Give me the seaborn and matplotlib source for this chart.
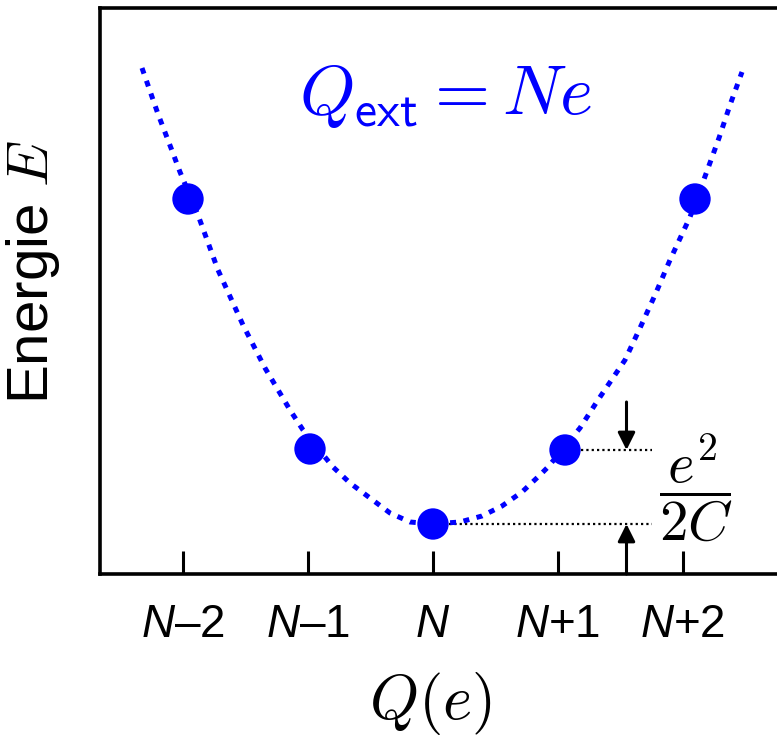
import matplotlib
matplotlib.use("Agg")
import matplotlib.pyplot as plt
import seaborn as sns

# Charge states (in units of e, relative to N) and their energies
charge_states = [-1.96, -0.984, 0.0, 1.056, 2.096]
state_energy = [3.75, 1.25, 0.50, 1.24, 3.75]

# Tick positions and labels of the charge axis
tick_pos = [-2, -1, 0, 1, 2]
tick_labels = ["$N$–2", "$N$–1", "$N$", "$N$+1", "$N$+2"]

# Continuous electrostatic energy curve E(Q)
curve_q = [-2.328, -2.2, -2.096, -2.024, -1.88, -1.72, -1.52, -1.344, -1.144,
           -1.04, -0.8, -0.664, -0.504, -0.344, -0.184, 0.0, 0.216, 0.392,
           0.552, 0.712, 0.856, 0.92, 1.176, 1.32, 1.536, 1.656, 1.776,
           1.896, 2.056, 2.16, 2.288, 2.376, 2.472]
curve_e = [5.06, 4.60, 4.26, 4.02, 3.59, 3.04, 2.49, 2.06, 1.64,
           1.44, 1.07, 0.91, 0.76, 0.61, 0.52, 0.50, 0.52, 0.58,
           0.68, 0.82, 0.99, 1.07, 1.46, 1.74, 2.14, 2.46, 2.79,
           3.14, 3.57, 3.92, 4.36, 4.69, 5.02]

# Position of the charging-energy arrows and end of the guide lines
gap_q = 1.548
guide_end = 1.752
arrow_top = 1.72

sns.set_style("white")
plt.rcParams["font.family"] = ["Liberation Sans", "DejaVu Sans"]
plt.rcParams["mathtext.fontset"] = "custom"
plt.rcParams["mathtext.it"] = "Liberation Sans:italic"
plt.rcParams["mathtext.rm"] = "Liberation Sans"
plt.rcParams["text.color"] = "black"
plt.rcParams["axes.labelcolor"] = "black"
plt.rcParams["xtick.color"] = "black"

blue = "#0000ff"

fig = plt.figure(figsize=(7.77, 7.38), dpi=100)
ax = fig.add_axes([100 / 777, 164 / 738, 677 / 777, 566 / 738])

sns.lineplot(x=curve_q, y=curve_e, ax=ax, color=blue, lw=3.6,
             linestyle=(0, (1.2, 1.5)), sort=False, zorder=2)
sns.scatterplot(x=charge_states, y=state_energy, ax=ax, s=510, color=blue,
                edgecolor="none", zorder=3)

# Guide lines from the N and N+1 states
for idx in (2, 3):
    ax.plot([charge_states[idx], guide_end], [state_energy[idx]] * 2,
            color="black", lw=1.6, linestyle=(0, (1, 1.4)), zorder=1)

# Arrows marking the charging-energy gap
arrow_kw = dict(arrowstyle="-|>", color="black", lw=2.2, mutation_scale=26,
                shrinkA=0, shrinkB=0)
ax.annotate("", xy=(gap_q, state_energy[3]), xytext=(gap_q, arrow_top),
            arrowprops=arrow_kw)
ax.annotate("", xy=(gap_q, state_energy[2]), xytext=(gap_q, 0.0),
            arrowprops=arrow_kw)

ax.text(2.104, 0.86, r"$\dfrac{e^2}{2C}$", math_fontfamily="cm",
        fontsize=41, ha="center", va="center")
ax.text(0.096, 4.77, r"$Q_{\mathsf{ext}}=Ne$", math_fontfamily="cm",
        fontsize=51, color=blue, ha="center", va="center")

ax.set_xlim(-2.664, 2.752)
ax.set_ylim(0, 5.66)
ax.set_xticks(tick_pos)
ax.set_xticklabels(tick_labels, fontsize=33)
ax.set_yticks([])
ax.tick_params(axis="x", bottom=True, direction="in", length=16.5,
               width=2.2, pad=21, color="black", labelcolor="black")

for side in ("left", "bottom", "top"):
    ax.spines[side].set_linewidth(2.6)
    ax.spines[side].set_color("black")
ax.spines["right"].set_visible(False)

ax.set_xlabel(r"$Q(e)$", math_fontfamily="cm", fontsize=45)
ax.xaxis.set_label_coords(0.4875, -0.17)
ax.set_ylabel("Energie $E$", math_fontfamily="cm", fontsize=42)
ax.yaxis.set_label_coords(-0.056, 0.534)

fig.savefig("out.png", dpi=100)
